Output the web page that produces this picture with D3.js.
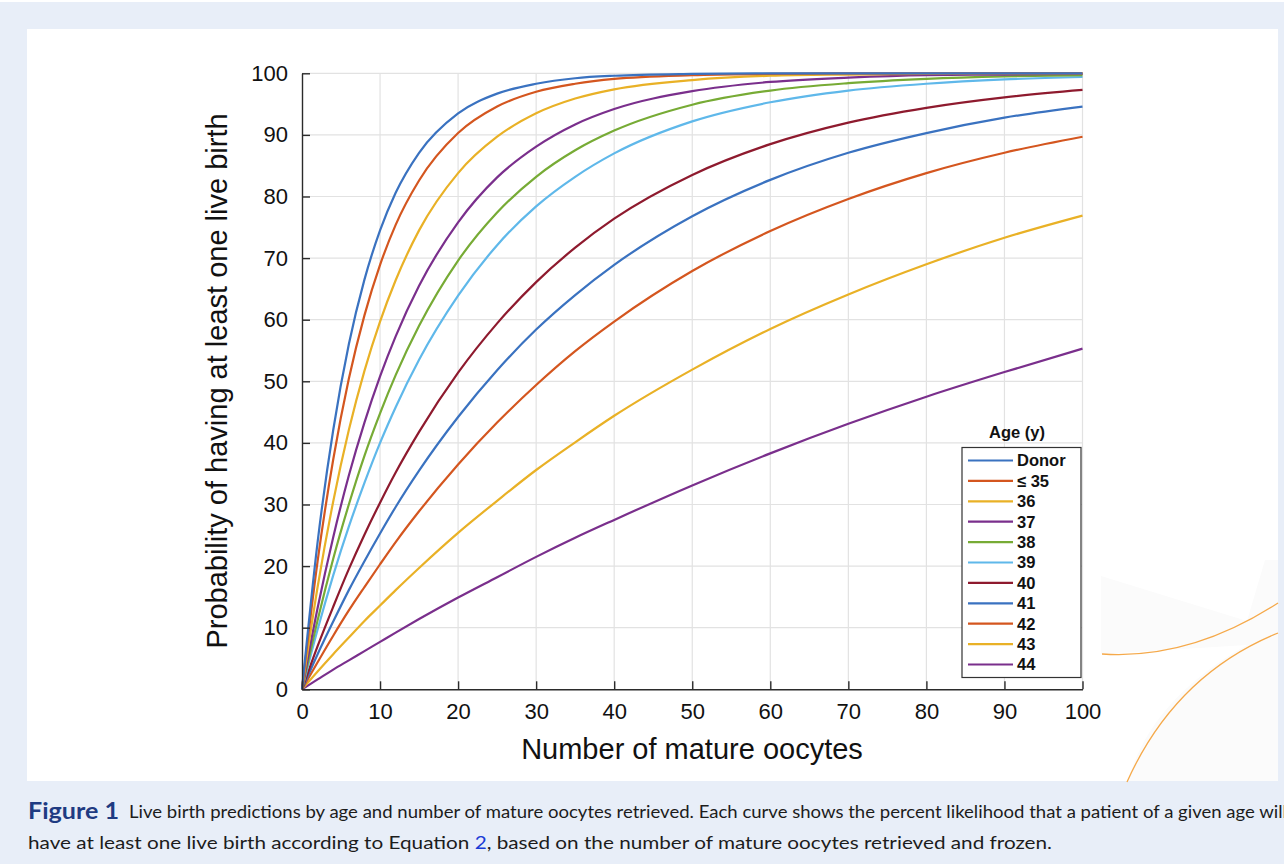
<!DOCTYPE html>
<html>
<head>
<meta charset="utf-8">
<script src="https://cdn.jsdelivr.net/npm/d3@7"></script>
<style>
  body { margin: 0; background: #fff; }
  svg { display: block; }
</style>
</head>
<body>
<div id="chart"></div>
<script>
var oocytes = [0, 2, 4, 6, 8, 10, 12, 15, 20, 25, 30, 35, 40, 50, 60, 70, 80, 90, 100];

// probability (%) of at least one live birth, one array per age group
var donor = [0, 23.9, 42.1, 56.0, 66.5, 74.5, 80.6, 87.1, 93.5, 96.7, 98.3, 99.2, 99.6, 99.9, 100, 100, 100, 100, 100];
var age35 = [0, 20.8, 37.3, 50.4, 60.7, 68.9, 75.4, 82.6, 90.3, 94.6, 97.0, 98.3, 99.1, 99.7, 99.9, 100, 100, 100, 100];
var age36 = [0, 16.6, 30.5, 42.1, 51.7, 59.7, 66.4, 74.5, 83.8, 89.7, 93.5, 95.9, 97.4, 98.9, 99.6, 99.8, 99.9, 100, 100];
var age37 = [0, 13.2, 24.7, 34.7, 43.3, 50.8, 57.3, 65.5, 75.8, 83.1, 88.1, 91.7, 94.2, 97.1, 98.6, 99.3, 99.7, 99.8, 99.9];
var age38 = [0, 11.2, 21.2, 30.0, 37.9, 44.8, 51.0, 59.0, 69.6, 77.4, 83.2, 87.5, 90.7, 94.9, 97.2, 98.4, 99.1, 99.5, 99.7];
var age39 = [0, 9.7, 18.5, 26.4, 33.5, 40.0, 45.8, 53.5, 63.9, 72.1, 78.4, 83.2, 87.0, 92.2, 95.3, 97.2, 98.3, 99.0, 99.4];
var age40 = [0, 7.0, 13.4, 19.5, 25.1, 30.3, 35.2, 41.8, 51.4, 59.4, 66.1, 71.7, 76.4, 83.5, 88.5, 92.0, 94.4, 96.1, 97.3];
var age41 = [0, 5.7, 11.0, 16.1, 20.8, 25.3, 29.6, 35.5, 44.2, 51.8, 58.4, 64.0, 68.9, 76.8, 82.7, 87.1, 90.3, 92.8, 94.6];
var age42 = [0, 4.4, 8.7, 12.8, 16.6, 20.3, 23.9, 28.9, 36.5, 43.3, 49.4, 54.9, 59.7, 67.9, 74.4, 79.6, 83.8, 87.1, 89.7];
var age43 = [0, 2.9, 5.7, 8.4, 11.1, 13.6, 16.1, 19.7, 25.4, 30.6, 35.6, 40.1, 44.4, 51.9, 58.5, 64.1, 69.0, 73.3, 76.9];
var age44 = [0, 1.6, 3.2, 4.7, 6.2, 7.7, 9.2, 11.4, 14.9, 18.2, 21.5, 24.6, 27.5, 33.1, 38.3, 43.1, 47.5, 51.5, 55.3];

var ageLabels = ["Donor", "\u2264 35", "36", "37", "38", "39", "40", "41", "42", "43", "44"];
var ageColors = ["#3a72c0", "#d4561f", "#e9b126", "#7a2f8c", "#77ab35", "#5fb8ea", "#8e1a2e",
                 "#3a72c0", "#d4561f", "#e9b126", "#7a2f8c"];
var allSeries = [donor, age35, age36, age37, age38, age39, age40, age41, age42, age43, age44];

var xTicks = d3.range(0, 101, 10);
var yTicks = d3.range(0, 101, 10);

var W = 1284, H = 864;
var svg = d3.select("#chart").append("svg")
    .attr("width", W)
    .attr("height", H);

// page background and white figure panel
svg.append("rect").attr("x", 0).attr("y", 2).attr("width", W).attr("height", H - 2).attr("fill", "#e8eef8");
svg.append("rect").attr("x", 27).attr("y", 29).attr("width", 1251).attr("height", 752).attr("fill", "#fff");

// faint decoration in the lower right corner of the panel
var deco = svg.append("g");
deco.append("path")
    .attr("d", "M1101,576 L1247,621 L1265,560 L1278,560 L1278,781 L1128,781 Q1150,700 1247,645 L1101,654 Z")
    .attr("fill", "#fbfbfb");
deco.append("path")
    .attr("d", "M1102,654 Q1190,660 1278,603")
    .attr("fill", "none").attr("stroke", "#f5a94a").attr("stroke-width", 1.3);
deco.append("path")
    .attr("d", "M1127,782 Q1175,675 1278,633")
    .attr("fill", "none").attr("stroke", "#f5a94a").attr("stroke-width", 1.3);

var x = d3.scaleLinear().domain([0, 100]).range([302, 1082.5]);
var y = d3.scaleLinear().domain([0, 100]).range([689.3, 73.3]);

// grid
var grid = svg.append("g").attr("class", "grid");
grid.selectAll(".gx")
    .data(xTicks.slice(1))
    .enter().append("line")
    .attr("x1", function(d) { return x(d); })
    .attr("x2", function(d) { return x(d); })
    .attr("y1", y(0)).attr("y2", y(100))
    .attr("stroke", "#e2e2e2").attr("stroke-width", 1.2);
grid.selectAll(".gy")
    .data(yTicks.slice(1))
    .enter().append("line")
    .attr("y1", function(d) { return y(d); })
    .attr("y2", function(d) { return y(d); })
    .attr("x1", x(0)).attr("x2", x(100))
    .attr("stroke", "#e2e2e2").attr("stroke-width", 1.2);

// curves
var line = d3.line()
    .x(function(d, i) { return x(oocytes[i]); })
    .y(function(d) { return y(d); })
    .curve(d3.curveMonotoneX);

// draw from the lowest curve up so the top ones sit over
svg.append("g").selectAll("path")
    .data(allSeries.map(function(s, i) { return {values: s, color: ageColors[i]}; }).reverse())
    .enter().append("path")
    .attr("d", function(d) { return line(d.values); })
    .attr("fill", "none")
    .attr("stroke", function(d) { return d.color; })
    .attr("stroke-width", 2.2);

// axes (ticks pointing inward)
var font = "'Liberation Sans', Arial, Helvetica, sans-serif";

var xAxis = svg.append("g")
    .attr("transform", "translate(0," + y(0) + ")")
    .call(d3.axisBottom(x).tickValues(xTicks).tickSizeInner(-8).tickSizeOuter(0).tickPadding(14));
var yAxis = svg.append("g")
    .attr("transform", "translate(" + x(0) + ",0)")
    .call(d3.axisLeft(y).tickValues(yTicks).tickSizeInner(-8).tickSizeOuter(0).tickPadding(14));

[xAxis, yAxis].forEach(function(ax) {
    ax.select(".domain").attr("stroke", "#2b2b2b").attr("stroke-width", 1.4);
    ax.selectAll(".tick line").attr("stroke", "#2b2b2b").attr("stroke-width", 1.4);
    ax.selectAll(".tick text")
        .attr("fill", "#111")
        .style("font-family", font)
        .style("font-size", "22px");
});

svg.append("text")
    .attr("x", 692).attr("y", 759)
    .attr("text-anchor", "middle")
    .style("font-family", font).style("font-size", "29px").attr("fill", "#111")
    .text("Number of mature oocytes");

svg.append("text")
    .attr("transform", "translate(227,381) rotate(-90)")
    .attr("text-anchor", "middle")
    .style("font-family", font).style("font-size", "29px").attr("fill", "#111")
    .text("Probability of having at least one live birth");

// legend
var legend = svg.append("g");
legend.append("text")
    .attr("x", 1017).attr("y", 438)
    .attr("text-anchor", "middle")
    .style("font-family", font).style("font-size", "16.5px").style("font-weight", "bold")
    .attr("fill", "#111")
    .text("Age (y)");
legend.append("rect")
    .attr("x", 962).attr("y", 447.5).attr("width", 119).attr("height", 230)
    .attr("fill", "#fff").attr("stroke", "#333").attr("stroke-width", 1.2);

var item = legend.selectAll(".item")
    .data(ageLabels)
    .enter().append("g")
    .attr("transform", function(d, i) { return "translate(0," + (460.5 + i * 20.4) + ")"; });
item.append("line")
    .attr("x1", 968).attr("x2", 1013)
    .attr("stroke", function(d, i) { return ageColors[i]; })
    .attr("stroke-width", 2.2);
item.append("text")
    .attr("x", 1017).attr("dy", "0.36em")
    .style("font-family", font).style("font-size", "16.5px").style("font-weight", "bold")
    .attr("fill", "#111")
    .text(function(d) { return d; });

// caption
var capFont = "Lato, 'Open Sans', sans-serif";
svg.append("text")
    .attr("x", 28).attr("y", 819)
    .style("font-family", capFont).style("font-size", "22px").style("font-weight", "bold")
    .attr("fill", "#1f3b82")
    .attr("textLength", 91).attr("lengthAdjust", "spacingAndGlyphs")
    .text("Figure 1");
svg.append("text")
    .attr("x", 129).attr("y", 818)
    .style("font-family", capFont).style("font-size", "18px")
    .attr("fill", "#1c1c1c")
    .attr("textLength", 1158).attr("lengthAdjust", "spacingAndGlyphs")
    .text("Live birth predictions by age and number of mature oocytes retrieved. Each curve shows the percent likelihood that a patient of a given age will");
var cap2 = svg.append("text")
    .attr("x", 28).attr("y", 849)
    .style("font-family", capFont).style("font-size", "18px")
    .attr("fill", "#1c1c1c")
    .attr("textLength", 1024).attr("lengthAdjust", "spacingAndGlyphs");
cap2.append("tspan").text("have at least one live birth according to Equation ");
cap2.append("tspan").attr("fill", "#1a3bd6").text("2");
cap2.append("tspan").text(", based on the number of mature oocytes retrieved and frozen.");
</script>
</body>
</html>
